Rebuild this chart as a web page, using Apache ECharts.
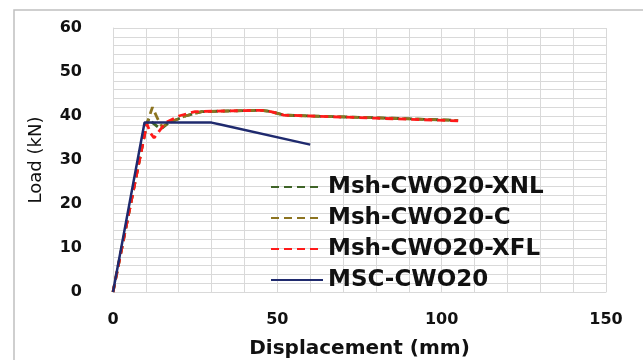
<!DOCTYPE html>
<html>
<head>
<meta charset="utf-8">
<script src="https://cdn.jsdelivr.net/npm/echarts@6/dist/echarts.min.js"></script>
<style>html,body{margin:0;padding:0;background:#fff;}#c{width:643px;height:360px;}</style>
</head>
<body>
<div id="c"></div>
<script>
// Data
const seriesNames = ['Msh-CWO20-XNL', 'Msh-CWO20-C', 'Msh-CWO20-XFL', 'MSC-CWO20'];

const xnlDisp = [0, 10.2, 11, 12, 14.5, 17, 22, 27, 45, 48, 52, 60, 80, 105];
const xnlLoad = [0, 38, 39.5, 38.5, 37, 38.5, 40, 41, 41.3, 41, 40.2, 40, 39.6, 39];

const cDisp = [0, 10.2, 12, 13.5, 15, 17, 22, 27, 45, 48, 52, 60, 80, 105];
const cLoad = [0, 38, 42, 39.5, 37.5, 38.5, 40, 41, 41.3, 41, 40.2, 40, 39.6, 39];

const xflDisp = [0, 10.3, 11.5, 12.5, 14, 16, 20, 25, 45, 48, 52, 60, 80, 105];
const xflLoad = [0, 38.2, 36, 35, 36.5, 38.5, 40, 41, 41.3, 41, 40.2, 40, 39.5, 38.9];

const mscDisp = [0, 9.6, 30, 33, 60];
const mscLoad = [0, 38.5, 38.5, 38, 33.5];

const xTicks = { min: 0, max: 150, interval: 50 };
const yTicks = { min: 0, max: 60, interval: 10 };

const pairs = (xs, ys) => xs.map((x, i) => [x, ys[i]]);
const colors = ['#3f6428', '#8c7420', '#ff1a1a', '#1f2a6e'];
const dataSets = [pairs(xnlDisp, xnlLoad), pairs(cDisp, cLoad), pairs(xflDisp, xflLoad), pairs(mscDisp, mscLoad)];

const chart = echarts.init(document.getElementById('c'));
const gridColor = '#d9d9d9';
chart.setOption({
  animation: false,
  backgroundColor: '#fff',
  graphic: [{
    type: 'rect', shape: { x: 14, y: 10, width: 700, height: 400 },
    style: { fill: 'none', stroke: '#c0c0c0', lineWidth: 1.5 }, z: -10
  }],
  grid: { left: 113, right: 37, top: 28, bottom: 68, containLabel: false, outerBoundsMode: 'none' },
  legend: {
    orient: 'vertical', left: 265, top: 170,
    itemWidth: 52, itemHeight: 14, itemGap: 7,
    data: seriesNames,
    itemStyle: { opacity: 0 },
    textStyle: { fontFamily: 'DejaVu Sans', fontWeight: 'bold', fontSize: 23, color: '#111', lineHeight: 24 }
  },
  xAxis: {
    type: 'value', min: xTicks.min, max: xTicks.max, interval: xTicks.interval,
    name: 'Displacement (mm)', nameLocation: 'middle', nameGap: 47,
    nameTextStyle: { fontFamily: 'DejaVu Sans', fontWeight: 'bold', fontSize: 20, color: '#111' },
    axisLine: { show: true, lineStyle: { color: gridColor } },
    axisTick: { show: false },
    axisLabel: { margin: 20, fontFamily: 'DejaVu Sans', fontWeight: 'bold', fontSize: 16, color: '#111' },
    splitLine: { show: true, lineStyle: { color: gridColor, width: 1 } },
    minorTick: { show: false, splitNumber: 5 },
    minorSplitLine: { show: true, lineStyle: { color: gridColor, width: 1 } }
  },
  yAxis: {
    type: 'value', min: yTicks.min, max: yTicks.max, interval: yTicks.interval,
    name: 'Load (kN)', nameLocation: 'middle', nameGap: 68, nameRotate: 90,
    nameTextStyle: { fontFamily: 'DejaVu Sans', fontSize: 18, color: '#111' },
    axisLine: { show: true, lineStyle: { color: gridColor } },
    axisTick: { show: false },
    axisLabel: { margin: 31, fontFamily: 'DejaVu Sans', fontWeight: 'bold', fontSize: 16, color: '#111' },
    splitLine: { show: true, lineStyle: { color: gridColor, width: 1 } },
    minorTick: { show: false, splitNumber: 5 },
    minorSplitLine: { show: true, lineStyle: { color: gridColor, width: 1 } }
  },
  series: seriesNames.map((n, i) => ({
    name: n, type: 'line', data: dataSets[i],
    symbol: 'none', showSymbol: false, smooth: false,
    color: colors[i],
    lineStyle: { color: colors[i], width: i === 3 ? 2.5 : 2.8, type: i === 3 ? 'solid' : [8, 5] },
    z: 2 + i
  }))
});
</script>
</body>
</html>
